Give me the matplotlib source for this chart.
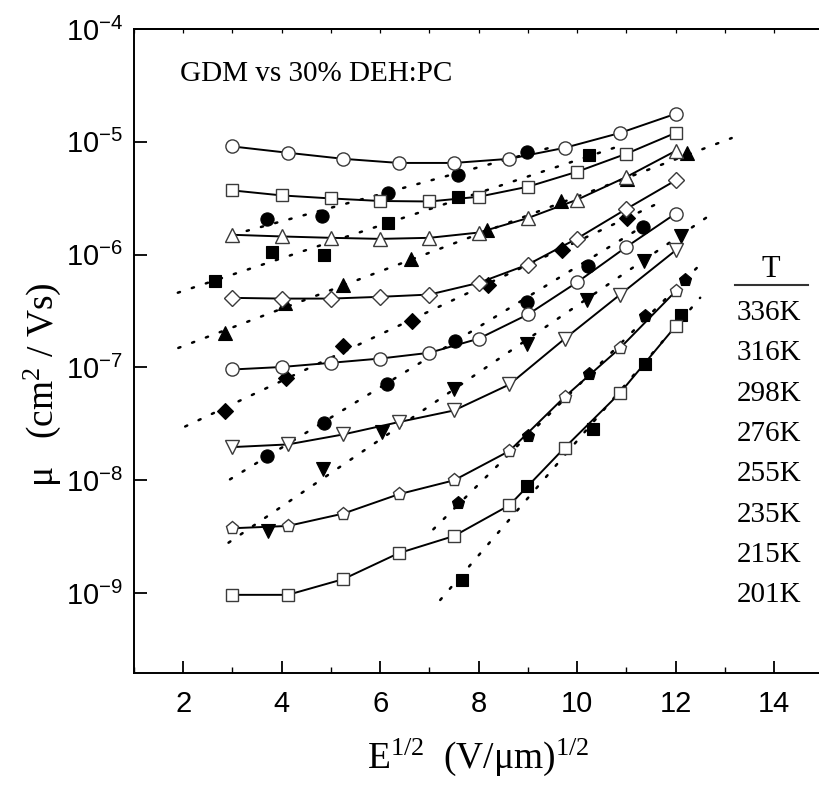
import math
import matplotlib
matplotlib.use("Agg")
import matplotlib.pyplot as plt
from matplotlib.ticker import FixedLocator, FuncFormatter, NullLocator, MultipleLocator
from matplotlib.lines import Line2D

plt.rcParams['mathtext.fontset'] = 'custom'
plt.rcParams['mathtext.rm'] = 'Liberation Serif'
plt.rcParams['mathtext.sf'] = 'Liberation Sans'
plt.rcParams['mathtext.it'] = 'Liberation Serif:italic'

# ---------------- data ----------------
temps = ["336K", "316K", "298K", "276K", "255K", "235K", "215K", "201K"]
markers = ["o", "s", "^", "D", "o", "v", "p", "s"]
marker_sizes = [9.5, 8.3, 9.5, 8.0, 9.5, 9.5, 9.5, 8.3]

x_half = [3, 4.125, 5.25, 6.375, 7.5, 8.625, 9.75, 10.875, 12]
x_int = [3, 4, 5, 6, 7, 8, 9, 10, 11, 12]

open_x = [x_half, x_int, x_int, x_int, x_int, x_half, x_half, x_half]
mu_336 = [9.1e-6, 8.0e-6, 7.07e-6, 6.5e-6, 6.5e-6, 7.07e-6, 8.85e-6, 1.2e-5, 1.77e-5]
mu_316 = [3.71e-6, 3.35e-6, 3.15e-6, 2.99e-6, 2.96e-6, 3.26e-6, 4.0e-6, 5.43e-6, 7.84e-6, 1.2e-5]
mu_298 = [1.50e-6, 1.45e-6, 1.41e-6, 1.38e-6, 1.41e-6, 1.57e-6, 2.11e-6, 3.07e-6, 4.88e-6, 8.3e-6]
mu_276 = [4.14e-7, 4.08e-7, 4.08e-7, 4.23e-7, 4.43e-7, 5.62e-7, 8.17e-7, 1.39e-6, 2.54e-6, 4.55e-6]
mu_255 = [9.6e-8, 1.01e-7, 1.10e-7, 1.20e-7, 1.35e-7, 1.80e-7, 2.95e-7, 5.69e-7, 1.17e-6, 2.31e-6]
mu_235 = [1.97e-8, 2.08e-8, 2.55e-8, 3.28e-8, 4.16e-8, 7.07e-8, 1.80e-7, 4.43e-7, 1.09e-6]
mu_215 = [3.76e-9, 3.94e-9, 5.07e-9, 7.52e-9, 1.0e-8, 1.82e-8, 5.5e-8, 1.49e-7, 4.73e-7]
mu_201 = [9.66e-10, 9.66e-10, 1.33e-9, 2.26e-9, 3.21e-9, 6.01e-9, 1.95e-8, 5.97e-8, 2.32e-7]
open_mu = [mu_336, mu_316, mu_298, mu_276, mu_255, mu_235, mu_215, mu_201]

# GDM (filled) points
gx_336 = [3.71, 4.82, 6.15, 7.58, 8.99]
gy_336 = [2.07e-6, 2.18e-6, 3.52e-6, 5.11e-6, 8.2e-6]
gx_316 = [2.65, 3.80, 4.86, 6.15, 7.58, 10.25]
gy_316 = [5.8e-7, 1.05e-6, 1.0e-6, 1.91e-6, 3.24e-6, 7.67e-6]
gx_298 = [2.85, 4.07, 5.25, 6.62, 8.16, 9.68, 11.02, 12.23]
gy_298 = [2.03e-7, 3.76e-7, 5.43e-7, 9.22e-7, 1.64e-6, 2.96e-6, 4.71e-6, 7.94e-6]
gx_276 = [2.85, 4.09, 5.25, 6.64, 8.20, 9.69, 11.02]
gy_276 = [4.1e-8, 8.1e-8, 1.54e-7, 2.57e-7, 5.43e-7, 1.11e-6, 2.11e-6]
gx_255 = [3.70, 4.85, 6.14, 7.53, 8.98, 10.22, 11.33]
gy_255 = [1.64e-8, 3.19e-8, 7.08e-8, 1.71e-7, 3.84e-7, 7.87e-7, 1.75e-6]
gx_235 = [3.73, 4.83, 6.03, 7.49, 8.99, 10.20, 11.35, 12.12]
gy_235 = [3.56e-9, 1.25e-8, 2.67e-8, 6.48e-8, 1.60e-7, 3.94e-7, 8.73e-7, 1.45e-6]
gx_215 = [7.58, 9.01, 10.25, 11.38, 12.19]
gy_215 = [6.25e-9, 2.47e-8, 8.67e-8, 2.88e-7, 5.93e-7]
gx_201 = [7.66, 8.98, 10.32, 11.38, 12.11]
gy_201 = [1.30e-9, 8.9e-9, 2.87e-8, 1.08e-7, 2.90e-7]
gdm_x = [gx_336, gx_316, gx_298, gx_276, gx_255, gx_235, gx_215, gx_201]
gdm_y = [gy_336, gy_316, gy_298, gy_276, gy_255, gy_235, gy_215, gy_201]

# dotted fit lines (start / end)
fit_x0 = [3.0, 1.89, 1.90, 2.04, 2.95, 2.92, 7.08, 7.22]
fit_y0 = [1.5e-6, 4.6e-7, 1.49e-7, 3.0e-8, 1.02e-8, 2.8e-9, 3.68e-9, 8.7e-10]
fit_x1 = [9.5, 10.87, 13.14, 11.73, 11.5, 12.8, 12.54, 12.50]
fit_y1 = [9.0e-6, 9.2e-6, 1.08e-5, 2.97e-6, 1.97e-6, 2.4e-6, 8.5e-7, 4.15e-7]

y_ticks = [1e-9, 1e-8, 1e-7, 1e-6, 1e-5, 1e-4]
x_ticks = [2, 4, 6, 8, 10, 12, 14]

# ---------------- figure ----------------
W, H = 819, 795
fig = plt.figure(figsize=(W / 100, H / 100), dpi=100)
ax = fig.add_axes([134 / W, 1 - 673 / H, (823.25 - 134) / W, (673 - 29) / H])
ax.set_yscale('log')
ax.set_xlim(1, 15)
ax.set_ylim(1.96e-10, 1e-4)

for i in range(len(temps)):
    ax.plot([fit_x0[i], fit_x1[i]], [fit_y0[i], fit_y1[i]], color='black',
            linestyle=(0, (0.9, 5.0)), lw=1.8, dash_capstyle='round', zorder=1)
    ax.plot(gdm_x[i], gdm_y[i], linestyle='none', marker=markers[i],
            ms=marker_sizes[i], mfc='black', mec='black', mew=0.8, zorder=2)
    ax.plot(open_x[i], open_mu[i], color='black', lw=1.4, marker=markers[i],
            ms=marker_sizes[i], mfc='white', mec='#3a3a3a', mew=1.0, zorder=3)

ax.yaxis.set_major_locator(FixedLocator(y_ticks))
ax.yaxis.set_minor_locator(NullLocator())
ax.yaxis.set_major_formatter(FuncFormatter(
    lambda v, p: r'$\mathsf{10^{%d}}$' % round(math.log10(v))))
ax.xaxis.set_major_locator(FixedLocator(x_ticks))
ax.xaxis.set_minor_locator(MultipleLocator(1))
ax.tick_params(axis='both', which='major', direction='in', length=9, width=1.3,
               right=False, top=False)
ax.tick_params(axis='x', which='major', labelsize=21, pad=12)
ax.tick_params(axis='y', which='major', labelsize=21, pad=8)
ax.tick_params(axis='x', which='minor', direction='in', length=4, width=1.0, top=False)
for lab in ax.get_xticklabels() + ax.get_yticklabels():
    lab.set_fontfamily('Liberation Sans')

sec = ax.secondary_xaxis('top')
sec.set_xticks(list(range(1, 16)))
sec.tick_params(direction='in', length=3, width=0.9, labeltop=False)
sec.spines['top'].set_linewidth(1.4)

for s in ax.spines.values():
    s.set_linewidth(1.4)

serif = 'Liberation Serif'
ax.set_xlabel(r'E$^{\mathrm{1/2}}$  (V/$\mathrm{\mu}$m)$^{\mathrm{1/2}}$', fontsize=27,
              fontfamily=serif, labelpad=14)
fig.text(42 / W, 1 - 385 / H, r'$\mathrm{\mu}$   (cm$^{\mathrm{2}}$ / Vs)', rotation=90,
         fontsize=27, fontfamily=serif, ha='center', va='center')

fig.text(180 / W, 1 - 74 / H, 'GDM vs 30% DEH:PC', fontsize=21, fontfamily=serif,
         ha='left', va='center')

# temperature key
fig.text(771 / W, 1 - 270 / H, 'T', fontsize=22, fontfamily=serif, ha='center', va='center')
fig.add_artist(Line2D([735 / W, 808 / W], [1 - 285 / H, 1 - 285 / H], color='#333333',
                      lw=1.5, transform=fig.transFigure))
for k, t in enumerate(temps):
    fig.text(769 / W, 1 - (313 + 40.3 * k) / H, t, fontsize=21, fontfamily=serif,
             ha='center', va='center')

fig.savefig('out.png', dpi=100)
